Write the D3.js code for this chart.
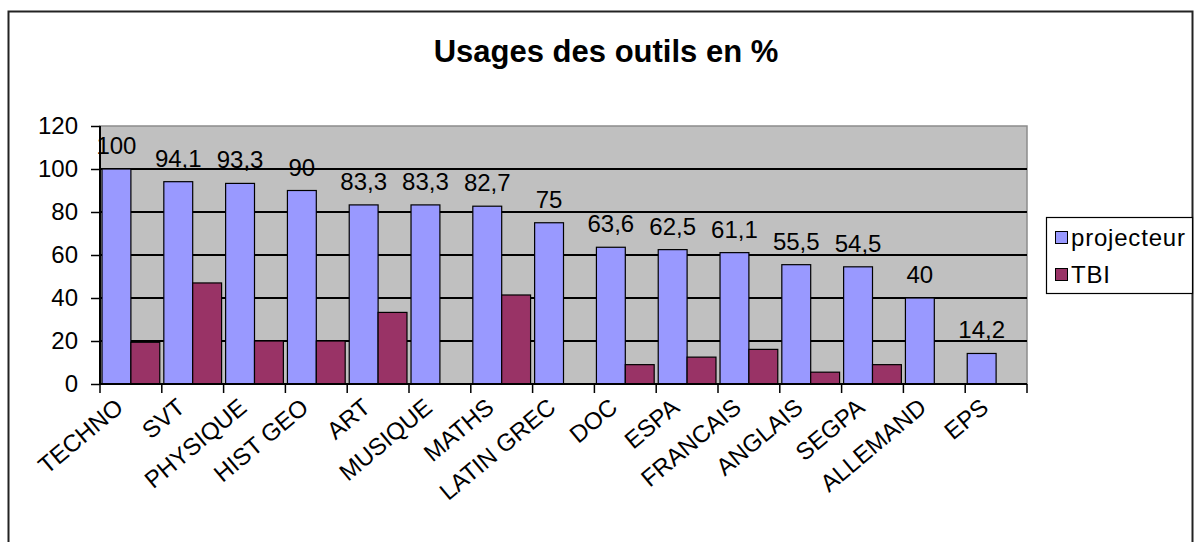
<!DOCTYPE html>
<html>
<head>
<meta charset="utf-8">
<script src="https://cdn.jsdelivr.net/npm/d3@7"></script>
<style>
  html, body { margin: 0; padding: 0; background: #fff; }
  svg { display: block; }
  text { font-family: "Liberation Sans", Arial, sans-serif; }
</style>
</head>
<body>
<svg id="chart" width="1195" height="542"></svg>
<script>
const categories = ["TECHNO", "SVT", "PHYSIQUE", "HIST GEO", "ART", "MUSIQUE", "MATHS", "LATIN GREC", "DOC", "ESPA", "FRANCAIS", "ANGLAIS", "SEGPA", "ALLEMAND", "EPS"];
const projecteur = [100, 94.1, 93.3, 90, 83.3, 83.3, 82.7, 75, 63.6, 62.5, 61.1, 55.5, 54.5, 40, 14.2];
const tbi = [19.4, 47, 20, 20, 33.3, 0, 41.4, 0, 9, 12.5, 16.1, 5.5, 9, 0, 0];
const seriesNames = ["projecteur", "TBI"];
const yTicks = [0, 20, 40, 60, 80, 100, 120];
const title = "Usages des outils en %";

(function () {
const colors = { projecteur: "#9999ff", TBI: "#993366" };
const FS = 24;
const svg = d3.select("#chart");

// outer chart frame
svg.append("rect").attr("x", 8.5).attr("y", 11.5).attr("width", 1184).attr("height", 600)
  .attr("fill", "#fff").attr("stroke", "#222").attr("stroke-width", 2);

const pLeft = 100, pRight = 1027, pTop = 126, pBottom = 384;
const x = d3.scaleBand().domain(categories).range([pLeft, pRight]).paddingInner(0).paddingOuter(0);
const xs = d3.scaleBand().domain(seriesNames).range([0, x.bandwidth()]).paddingInner(0).paddingOuter(0.07);
const y = d3.scaleLinear().domain([0, 120]).range([pBottom, pTop]);

// plot area
svg.append("rect").attr("x", pLeft).attr("y", pTop).attr("width", pRight - pLeft).attr("height", pBottom - pTop)
  .attr("fill", "#c0c0c0").attr("stroke", "#8c8c8c").attr("stroke-width", 1.5);

// gridlines
svg.append("g").selectAll("line").data(yTicks.filter(t => t > 0 && t < 120)).join("line")
  .attr("x1", pLeft).attr("x2", pRight).attr("y1", d => Math.round(y(d))).attr("y2", d => Math.round(y(d)))
  .attr("stroke", "#000").attr("stroke-width", 1.8);

const fmt = v => String(v).replace(".", ",");

// bars
const rows = categories.map((c, i) => ({ cat: c, projecteur: projecteur[i], TBI: tbi[i] }));
const g = svg.append("g");
rows.forEach(r => {
  seriesNames.forEach(s => {
    const v = r[s];
    if (v <= 0) return;
    g.append("rect")
      .attr("x", x(r.cat) + xs(s))
      .attr("y", y(v))
      .attr("width", xs.bandwidth())
      .attr("height", y(0) - y(v))
      .attr("fill", colors[s]).attr("stroke", "#000").attr("stroke-width", 1.2);
  });
});

// data labels (projecteur)
svg.append("g").selectAll("text").data(rows).join("text")
  .attr("x", d => x(d.cat) + xs("projecteur") + xs.bandwidth() / 2)
  .attr("y", d => y(d.projecteur) - 15)
  .attr("text-anchor", "middle").attr("font-size", FS).attr("fill", "#000")
  .text(d => fmt(d.projecteur));

// y axis
const yAxis = svg.append("g").attr("transform", `translate(${pLeft},0)`)
  .call(d3.axisLeft(y).tickValues(yTicks).tickSize(9).tickPadding(13).tickFormat(d => d));
yAxis.select(".domain").attr("stroke", "#000").attr("stroke-width", 2).attr("d", `M0,${pTop}V${pBottom}`);
yAxis.selectAll(".tick line").attr("stroke", "#000").attr("stroke-width", 1.5);
yAxis.selectAll(".tick text").attr("font-size", FS).attr("fill", "#000").attr("font-family", "Liberation Sans, Arial, sans-serif");

// x axis
const xAxis = svg.append("g").attr("transform", `translate(0,${pBottom})`)
  .call(d3.axisBottom(x).tickSize(0).tickFormat(d => d));
xAxis.select(".domain").attr("stroke", "#000").attr("stroke-width", 2).attr("d", `M${pLeft},0H${pRight}`);
xAxis.selectAll(".tick text")
  .attr("font-size", FS).attr("fill", "#000").attr("font-family", "Liberation Sans, Arial, sans-serif")
  .attr("text-anchor", "end")
  .attr("transform", "translate(-17,13) rotate(-40)")
  .attr("dy", "0.7em").attr("y", 0);
// boundary ticks
const bounds = categories.map(c => x(c)).concat([pRight]);
svg.append("g").selectAll("line").data(bounds).join("line")
  .attr("x1", d => d).attr("x2", d => d).attr("y1", pBottom).attr("y2", pBottom + 9)
  .attr("stroke", "#000").attr("stroke-width", 1.5);

// title
svg.append("text").attr("x", 606).attr("y", 62).attr("text-anchor", "middle")
  .attr("font-size", 31).attr("font-weight", "bold").attr("fill", "#000").text(title);

// legend
const lg = svg.append("g");
lg.append("rect").attr("x", 1046.5).attr("y", 217.5).attr("width", 146).attr("height", 76)
  .attr("fill", "#fff").attr("stroke", "#000").attr("stroke-width", 1.2);
seriesNames.forEach((s, i) => {
  const cy = 238 + i * 37;
  lg.append("rect").attr("x", 1055.5).attr("y", cy - 6.5).attr("width", 12).attr("height", 12)
    .attr("fill", colors[s]).attr("stroke", "#000").attr("stroke-width", 1);
  lg.append("text").attr("x", 1071).attr("y", cy + 8).attr("font-size", FS).attr("letter-spacing", 0.8)
    .attr("fill", "#000").text(s);
});
})();
</script>
</body>
</html>
